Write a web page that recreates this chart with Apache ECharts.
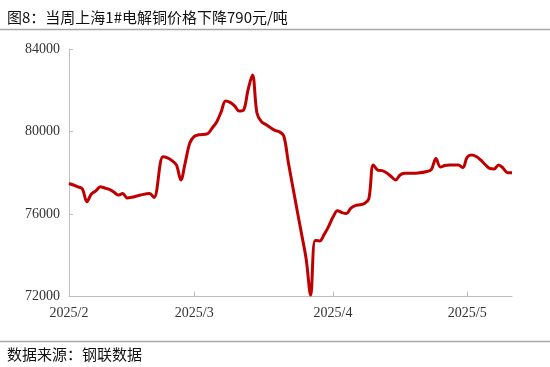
<!DOCTYPE html>
<html>
<head>
<meta charset="utf-8">
<script src="https://cdn.jsdelivr.net/npm/echarts@6/dist/echarts.min.js"></script>
<style>
html,body{margin:0;padding:0;background:#fff;}
#main{width:550px;height:367px;}
</style>
</head>
<body>
<div id="main"></div>
<script>
// ---- data ----
var titleText = '图8：当周上海1#电解铜价格下降790元/吨';
var sourceText = '数据来源：钢联数据';
var dates = [
 '2025-02-01','2025-02-03','2025-02-04','2025-02-05','2025-02-06','2025-02-07','2025-02-08','2025-02-09',
 '2025-02-10','2025-02-11','2025-02-12','2025-02-13','2025-02-14','2025-02-15','2025-02-17','2025-02-19',
 '2025-02-20','2025-02-22','2025-02-23','2025-02-24','2025-02-25','2025-02-26','2025-02-27','2025-02-28',
 '2025-03-01','2025-03-02','2025-03-04','2025-03-05','2025-03-06','2025-03-07','2025-03-08','2025-03-09',
 '2025-03-10','2025-03-11','2025-03-12','2025-03-13','2025-03-14','2025-03-15','2025-03-16','2025-03-17',
 '2025-03-18','2025-03-19','2025-03-20','2025-03-21','2025-03-22','2025-03-23','2025-03-24','2025-03-25',
 '2025-03-26','2025-03-27','2025-03-28','2025-03-29','2025-03-30','2025-03-31','2025-04-01','2025-04-02',
 '2025-04-03','2025-04-04','2025-04-05','2025-04-06','2025-04-07','2025-04-08','2025-04-09','2025-04-10',
 '2025-04-11','2025-04-12','2025-04-13','2025-04-14','2025-04-15','2025-04-16','2025-04-17','2025-04-20',
 '2025-04-22','2025-04-23','2025-04-24','2025-04-25','2025-04-26','2025-04-27','2025-04-29','2025-04-30',
 '2025-05-01','2025-05-02','2025-05-03','2025-05-04','2025-05-05','2025-05-06','2025-05-07','2025-05-08',
 '2025-05-09','2025-05-10','2025-05-11'
];
var prices = [
 77480,77320,77210,76600,76970,77120,77320,77260,
 77190,77070,76920,76990,76780,76810,76920,76990,
 76800,78780,78720,78590,78380,77650,78520,79440,
 79760,79840,79900,80170,80460,80950,81480,81410,
 81240,81000,81040,82010,82740,80900,80480,80340,
 80190,80050,79990,79780,78520,77330,76160,75000,
 73820,72070,74720,74690,75000,75390,75850,76160,
 76070,76020,76290,76410,76450,76510,76730,78380,
 78130,78100,77990,77820,77650,77890,77970,77990,
 78060,78160,78690,78280,78350,78380,78380,78250,
 78760,78860,78790,78620,78400,78210,78180,78380,
 78230,78000,78000
];
var xTickDates = ['2025-02-01','2025-03-01','2025-04-01','2025-05-01'];
var xTickLabels = ['2025/2','2025/3','2025/4','2025/5'];
var xMin = '2025-02-01', xMax = '2025-05-11';
var yMin = 72000, yMax = 84000, yStep = 4000;

// ---- chart ----
function dayNum(s){ var p = s.split('-'); return Math.round(Date.UTC(+p[0], +p[1]-1, +p[2]) / 86400000); }
var base = dayNum(xMin);
function off(s){ return dayNum(s) - base; }
var tickVals = xTickDates.map(off);
var seriesData = dates.map(function(d,i){ return [off(d), prices[i]]; });

var chart = echarts.init(document.getElementById('main'), null, {renderer:'canvas'});
chart.setOption({
  animation:false,
  backgroundColor:'#fff',
  title:[
    {text:titleText, left:2, top:5,
     textStyle:{fontFamily:'Noto Sans CJK SC', fontSize:15, fontWeight:'normal', color:'#111'}},
    {text:sourceText, left:2, top:342,
     textStyle:{fontFamily:'Noto Sans CJK SC', fontSize:15, fontWeight:'normal', color:'#111'}}
  ],
  graphic:[
    {type:'line', shape:{x1:0,y1:29.5,x2:550,y2:29.5}, style:{stroke:'#a6a6a6', lineWidth:1.5}},
    {type:'line', shape:{x1:0,y1:341.5,x2:550,y2:341.5}, style:{stroke:'#a6a6a6', lineWidth:1.5}}
  ],
  grid:{left:69, right:38, top:49, bottom:70.5, containLabel:false},
  xAxis:{
    type:'value', min:0, max:off(xMax),
    axisLine:{show:true, lineStyle:{color:'#bfbfbf', width:1}},
    axisTick:{show:true, inside:true, length:5, customValues:tickVals, lineStyle:{color:'#bfbfbf'}},
    axisLabel:{customValues:tickVals, margin:10, color:'#333', fontFamily:'Liberation Serif', fontSize:14,
      formatter:function(v){ var i = tickVals.indexOf(Math.round(v)); return i >= 0 ? xTickLabels[i] : ''; }},
    splitLine:{show:false}
  },
  yAxis:{
    type:'value', min:yMin, max:yMax, interval:yStep,
    axisLine:{show:true, lineStyle:{color:'#bfbfbf', width:1}},
    axisTick:{show:true, inside:true, length:4, lineStyle:{color:'#bfbfbf'}},
    axisLabel:{margin:9, color:'#333', fontFamily:'Liberation Serif', fontSize:14,
      formatter:function(v){ return String(v); }},
    splitLine:{show:false}
  },
  series:[{
    type:'line', data:seriesData, smooth:0.35, showSymbol:false,
    lineStyle:{color:'#c00000', width:3}, clip:false
  }]
});
</script>
</body>
</html>
